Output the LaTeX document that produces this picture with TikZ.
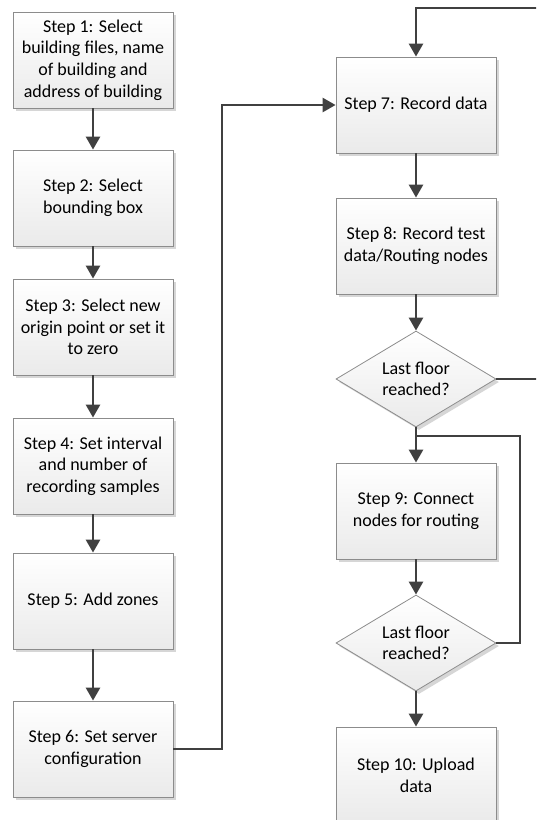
\documentclass[tikz,border=0pt]{standalone}
\usepackage{fontspec}
\setmainfont{Carlito}
\usetikzlibrary{shapes.geometric,arrows.meta,shadows}
\definecolor{arrowc}{HTML}{404040}
\definecolor{borderc}{HTML}{8C8C8C}
\definecolor{shadowc}{HTML}{D6D6D6}
\definecolor{boxbot}{HTML}{EAEAEA}
\tikzset{
  boxbase/.style={draw=borderc, line width=0.8pt, top color=white, bottom color=boxbot,
    inner sep=0pt, align=center, font=\fontsize{18}{21.7}\selectfont,
    drop shadow={shadow xshift=3pt, shadow yshift=-3pt, fill=shadowc, opacity=1}},
  stepbox/.style={boxbase, rectangle, minimum width=160pt, minimum height=96pt},
  decbox/.style={boxbase, diamond, aspect=1.667, minimum width=160pt, minimum height=96pt},
  arr/.style={draw=arrowc, line width=2.6pt, -{Triangle[length=13pt,width=14pt]}},
  link/.style={draw=arrowc, line width=2.6pt},
}
\begin{document}
\begin{tikzpicture}[x=1pt,y=-1pt]
\useasboundingbox (0,0) rectangle (536,820);
\clip (0,0) rectangle (536,820);
% left column
\node[stepbox] (s1) at (93,60)  {Step 1: Select\\building files, name\\of building and\\address of building};
\node[stepbox] (s2) at (93,198) {Step 2: Select\\bounding box};
\node[stepbox] (s3) at (93,327) {Step 3: Select new\\origin point or set it\\to zero};
\node[stepbox] (s4) at (93,466) {Step 4: Set interval\\and number of\\recording samples};
\node[stepbox] (s5) at (93,601) {Step 5: Add zones};
\node[stepbox] (s6) at (93,749) {Step 6: Set server\\configuration};
% right column
\node[stepbox] (s7) at (416,105) {Step 7: Record data};
\node[stepbox] (s8) at (416,246) {Step 8: Record test\\data/Routing nodes};
\node[decbox]  (d1) at (416,379) {Last floor\\reached?};
\node[stepbox] (s9) at (416,511) {Step 9: Connect\\nodes for routing};
\node[decbox]  (d2) at (416,643) {Last floor\\reached?};
\node[stepbox] (s10) at (416,775) {Step 10: Upload\\data};
% helper coordinates
\coordinate (c1) at (222,0);
\coordinate (r1) at (550,8);
\coordinate (c2) at (520,436);
\coordinate (j)  at (416,436);
% connectors
\draw[arr] (s1) -- (s2);
\draw[arr] (s2) -- (s3);
\draw[arr] (s3) -- (s4);
\draw[arr] (s4) -- (s5);
\draw[arr] (s5) -- (s6);
\draw[arr] (s6.east) -- (s6.east -| c1) |- (s7.west);
\draw[arr] (s7) -- (s8);
\draw[arr] (s8) -- (d1);
\draw[arr] (d1.east) -| (r1) -| (s7.north);
\draw[arr] (d1.south) -- (s9.north);
\draw[link] (d2.east) -| (c2) -- (j);
\draw[arr] (s9) -- (d2);
\draw[arr] (d2) -- (s10);
\end{tikzpicture}
\end{document}
